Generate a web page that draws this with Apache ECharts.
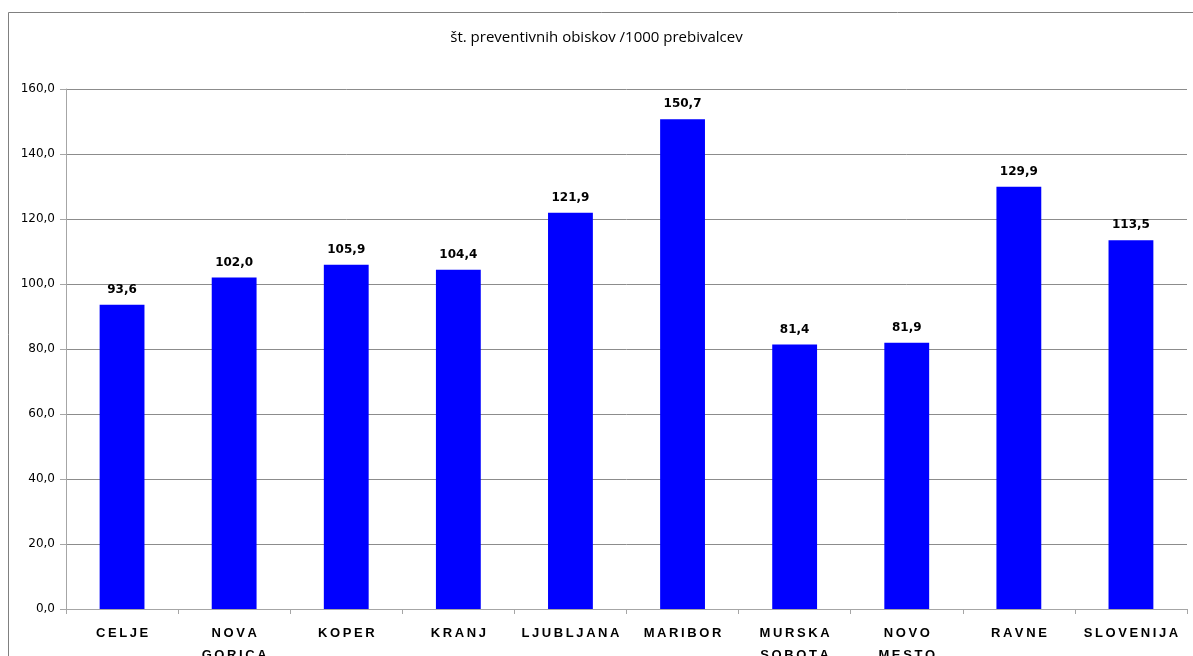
<!DOCTYPE html>
<html>
<head>
<meta charset="utf-8">
<script src="https://cdn.jsdelivr.net/npm/echarts@6/dist/echarts.min.js"></script>
<style>
  html, body { margin: 0; padding: 0; background: #fff; }
  #chart { width: 1193px; height: 656px; }
</style>
</head>
<body>
<div id="chart"></div>
<script>
// Preventive visits per 1000 inhabitants by region
const regions = ['CELJE', 'NOVA GORICA', 'KOPER', 'KRANJ', 'LJUBLJANA', 'MARIBOR', 'MURSKA SOBOTA', 'NOVO MESTO', 'RAVNE', 'SLOVENIJA'];
const visits = [93.6, 102.0, 105.9, 104.4, 121.9, 150.7, 81.4, 81.9, 129.9, 113.5];
const titleText = 'št. preventivnih obiskov /1000 prebivalcev';

const fmtComma = v => v.toFixed(1).replace('.', ',');
// spread letters apart and break two-word names onto two lines
const spaced = s => s.split(' ').map(w => w.split('').join('\u2009')).join('\n');

const chart = echarts.init(document.getElementById('chart'));
chart.setOption({
  animation: false,
  backgroundColor: '#ffffff',
  title: {
    text: titleText,
    left: 'center',
    top: 25,
    textStyle: { fontFamily: 'Open Sans', fontSize: 15, fontWeight: 'normal', color: '#000' }
  },
  graphic: [{
    type: 'rect',
    shape: { x: 8.5, y: 12.5, width: 1300, height: 800 },
    style: { fill: 'none', stroke: '#808080', lineWidth: 1 },
    silent: true,
    z: -1
  }],
  grid: { left: 66, right: 6, top: 89, bottom: 47, containLabel: false, outerBoundsMode: 'none' },
  xAxis: {
    type: 'category',
    data: regions,
    axisLine: { lineStyle: { color: '#a6a6a6', width: 1 } },
    axisTick: { show: true, length: 5, lineStyle: { color: '#a6a6a6' } },
    axisLabel: {
      formatter: spaced,
      interval: 0,
      margin: 13,
      lineHeight: 22,
      fontFamily: 'Liberation Sans',
      fontWeight: 'bold',
      fontSize: 13,
      color: '#000'
    }
  },
  yAxis: {
    type: 'value',
    min: 0,
    max: 160,
    interval: 20,
    axisLine: { show: true, lineStyle: { color: '#a6a6a6', width: 1 } },
    axisTick: { show: true, length: 6, lineStyle: { color: '#a6a6a6' } },
    axisLabel: {
      formatter: v => fmtComma(v),
      margin: 11,
      fontFamily: 'DejaVu Sans',
      fontSize: 12,
      color: '#000'
    },
    splitLine: { show: true, lineStyle: { color: '#8c8c8c', width: 1 } }
  },
  series: [{
    type: 'bar',
    data: visits,
    barCategoryGap: '60%',
    itemStyle: { color: '#0000ff' },
    label: {
      show: true,
      position: 'top',
      distance: 9,
      formatter: p => fmtComma(p.value),
      fontFamily: 'DejaVu Sans',
      fontWeight: 'bold',
      fontSize: 12,
      color: '#000'
    }
  }]
});
</script>
</body>
</html>
